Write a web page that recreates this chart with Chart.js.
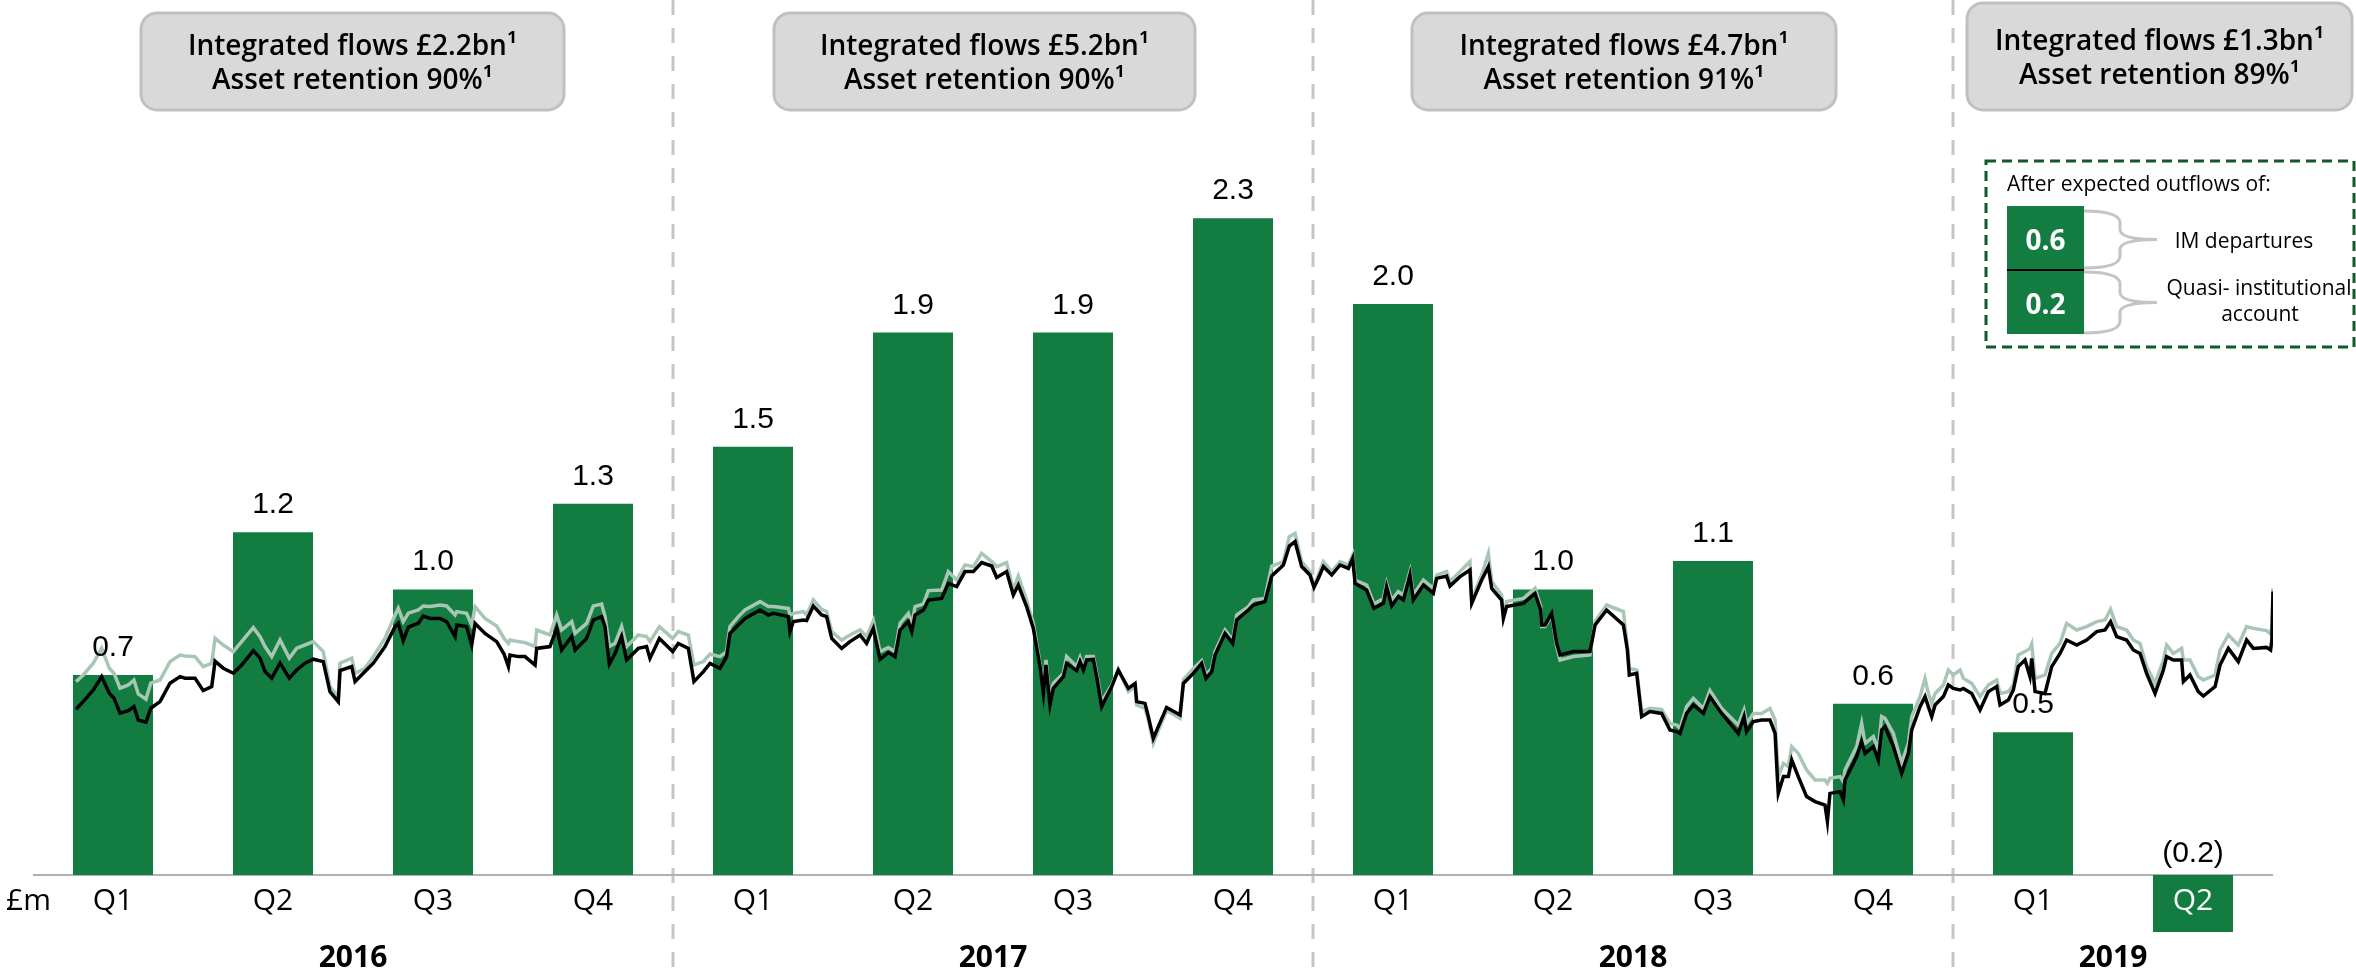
<!DOCTYPE html>
<html>
<head>
<meta charset="utf-8">
<script src="https://cdn.jsdelivr.net/npm/chart.js@4.4.1/dist/chart.umd.min.js"></script>
<style>
  html, body { margin: 0; padding: 0; background: #fff; }
  canvas { display: block; }
</style>
</head>
<body>
<canvas id="chart" width="2356" height="980"></canvas>
<script>
// quarterly net flows, £bn
const quarters = ['Q1', 'Q2', 'Q3', 'Q4', 'Q1', 'Q2', 'Q3', 'Q4', 'Q1', 'Q2', 'Q3', 'Q4', 'Q1', 'Q2'];
const flows = [0.7, 1.2, 1.0, 1.3, 1.5, 1.9, 1.9, 2.3, 2.0, 1.0, 1.1, 0.6, 0.5, -0.2];
const years = ['2016', '2017', '2018', '2019'];
const yearFirstQuarter = [0, 4, 8, 12];
const integratedFlows = ['£2.2bn', '£5.2bn', '£4.7bn', '£1.3bn'];
const assetRetention = ['90%', '90%', '91%', '89%'];
const expectedOutflows = [0.6, 0.2];
const outflowNames = [['IM departures'], ['Quasi- institutional', 'account']];

// share price lines (x = quarters since start of 2016)
const priceT = [
  0.269, 0.314, 0.377, 0.429, 0.477, 0.506, 0.544, 0.596, 0.631, 0.658, 0.706, 0.736, 0.794, 0.856, 0.919, 0.95,
  1.013, 1.064, 1.117, 1.138, 1.189, 1.252, 1.304, 1.377, 1.419, 1.45, 1.492, 1.544, 1.602, 1.648, 1.7, 1.752,
  1.814, 1.856, 1.908, 1.919, 1.992, 2.013, 2.075, 2.127, 2.2, 2.263, 2.283, 2.314, 2.346, 2.408, 2.439,
  2.481, 2.544, 2.585, 2.638, 2.648, 2.71, 2.742, 2.763, 2.825, 2.898, 2.944, 2.971, 2.981, 3.033, 3.075, 3.138,
  3.148, 3.231, 3.273, 3.304, 3.367, 3.388, 3.46, 3.502, 3.554, 3.575, 3.602, 3.638, 3.679, 3.71, 3.783, 3.835,
  3.856, 3.915, 3.998, 4.033, 4.096, 4.131, 4.19, 4.231, 4.294, 4.335, 4.356, 4.408, 4.45, 4.544, 4.596, 4.627,
  4.721, 4.731, 4.752, 4.815,
  4.835, 4.877, 4.929, 4.96, 4.992, 5.054, 5.106, 5.169, 5.21, 5.252, 5.294, 5.346, 5.388, 5.419, 5.471, 5.492,
  5.513, 5.565, 5.596, 5.679, 5.721, 5.773, 5.825, 5.877, 5.929, 5.992, 6.023, 6.085, 6.127, 6.158, 6.21, 6.252,
  6.294, 6.315, 6.331, 6.356, 6.377, 6.44, 6.46, 6.523, 6.544, 6.565, 6.585, 6.627, 6.648, 6.679, 6.742, 6.783,
  6.846, 6.888, 6.898, 6.95, 6.971, 7.002, 7.033, 7.085, 7.169,
  7.19, 7.252, 7.304, 7.331, 7.367, 7.388, 7.45, 7.498, 7.523, 7.596, 7.627, 7.7, 7.742, 7.815, 7.852, 7.888,
  7.929, 7.981, 8.006, 8.033, 8.065, 8.117, 8.169, 8.221, 8.248, 8.263, 8.335, 8.381, 8.44, 8.46, 8.492, 8.533,
  8.565, 8.606, 8.627, 8.69, 8.752, 8.773, 8.835, 8.856, 8.919, 8.981, 8.992, 9.054, 9.096, 9.117, 9.179, 9.19,
  9.21, 9.315, 9.388, 9.423, 9.429,
  9.45, 9.492, 9.523, 9.544, 9.627, 9.731, 9.763, 9.835, 9.94, 9.965, 9.977, 10.023, 10.054, 10.106, 10.179, 10.231,
  10.273, 10.294, 10.335, 10.377, 10.44, 10.481, 10.554, 10.658, 10.694, 10.71, 10.752, 10.804, 10.856, 10.888, 10.902, 10.908,
  10.94, 10.971, 10.992, 11.033, 11.085, 11.138, 11.2, 11.215, 11.231, 11.294, 11.315, 11.325, 11.367, 11.398, 11.429, 11.45,
  11.502, 11.533, 11.554, 11.575, 11.627, 11.679, 11.721, 11.742, 11.794,
  11.825, 11.846, 11.867, 11.888, 11.94, 11.971, 12.002, 12.044, 12.065, 12.117, 12.169, 12.221, 12.273, 12.294, 12.346, 12.377,
  12.408, 12.45, 12.481, 12.492, 12.513, 12.575, 12.617, 12.669, 12.71, 12.773, 12.835, 12.898, 12.95, 12.985, 13.023, 13.085,
  13.127, 13.169, 13.21, 13.263, 13.315, 13.335, 13.377, 13.429, 13.44, 13.481, 13.533, 13.565, 13.638, 13.669, 13.721, 13.783,
  13.835, 13.877, 13.96, 13.985, 13.993, 14
];
const priceBlack = [
  261.4, 265.2, 271, 277.7, 269.4, 266.9, 259.4, 260.7, 262.7, 256, 254.9, 261.9, 265.2, 274.4, 277.7, 276.9,
  276.9, 270.7, 272.7, 285.4, 281.9, 279.4, 283.5, 290.7, 286.9, 280.2, 276.9, 284.4, 276.9, 281, 284.4, 286.4,
  285.2, 270.2, 265.2, 280.7, 282.7, 275.2, 280.2, 284.4, 292.7, 302.7, 304.4, 295.7, 302.4, 304.4, 308,
  306.8, 306.8, 305.2, 297.7, 303.5, 302.7, 293.5, 304.3, 299.3, 295.2, 289, 282.7, 288.5, 287.7, 287.7, 283.5,
  291.8, 292.7, 301.8, 291, 297.7, 291, 296.8, 306, 307.7, 302.7, 284, 289.3, 297.7, 286, 291.8, 292.7,
  286.8, 296.8, 290.2, 294.3, 291.8, 275.2, 280.2, 284.3, 281.8, 287.7, 299.3, 303.5, 306.8, 311, 308.5, 309.3,
  307.7, 300.2, 305.2, 306,
  305.7, 313, 308.5, 307.7, 296.8, 291.8, 295.2, 298.5, 294.3, 301.8, 286.3, 289.7, 287.7, 301, 305.2, 300.2,
  308.5, 311, 316, 316.8, 324.3, 322.7, 330.2, 330.2, 334.7, 333, 327.3, 330.2, 318.5, 323.5, 312.7, 301.8,
  282.7, 269.3, 283.5, 263.5, 271.8, 277.7, 284.3, 280.7, 285.2, 281, 286, 286.3, 277.7, 262.7, 272.7, 281,
  271.8, 274.3, 265.2, 264.3, 257.7, 246.8, 252.7, 262.3, 258.5,
  274.3, 279.3, 284.3, 276.8, 280.2, 288.5, 299.3, 294.3, 306, 311, 313.5, 315.2, 328, 333.5, 343, 345.2,
  332.7, 328.5, 322.3, 326.8, 332.7, 328.5, 333.5, 331.8, 336.8, 324.3, 321, 311.8, 314.3, 322.7, 313, 317.7,
  316, 328.5, 316, 323.5, 319.3, 326.8, 328, 323, 327.7, 331, 314.3, 326, 332.7, 321.8, 316, 306.8,
  312.7, 314.3, 319.3, 311, 303.5,
  303.5, 309.3, 294.3, 288.5, 290.2, 290.2, 303.5, 311, 303.5, 291, 278.5, 279.3, 257.7, 260.2, 259.3, 251,
  250.2, 249.3, 259.3, 263.5, 259.3, 267.7, 259.3, 249.3, 257.7, 250.2, 255.2, 256, 256, 249.3, 227.7, 219.3,
  227.7, 227.7, 236, 227.7, 217.7, 215.2, 213.5, 205.2, 219.3, 220.2, 216, 226, 232.7, 237.7, 245.2, 239.3,
  242.7, 236, 251, 252.7, 242.7, 229.3, 239.3, 251, 262.7,
  267.7, 262.7, 257.7, 263.5, 267.7, 273.5, 271.8, 271, 271.8, 269.3, 261, 270.2, 272.7, 263.5, 266, 271,
  282.7, 286, 277.7, 286.8, 270.2, 269.3, 282.7, 289.3, 296, 293.5, 296, 300.2, 301, 305.2, 297.7, 296,
  291, 289.3, 279.3, 269.3, 281, 287.7, 286, 286, 275.2, 278.5, 270.2, 268, 272.7, 283.5, 291.8, 285.2,
  296, 291.8, 292.3, 291, 296, 320.2
];
const priceGrey = [
  275.2, 278.5, 284.4, 291.9, 281.9, 279.4, 271.9, 273.5, 276, 269, 266.4, 274.4, 276, 285.2, 288.5, 288,
  287.7, 282.7, 284.4, 296.9, 293.5, 290.2, 295.2, 302.2, 297.7, 292.7, 287.7, 296, 286.9, 291.9, 293.5, 295.2,
  290.2, 272.7, 267.7, 284.4, 286.9, 279.4, 281.9, 287.7, 296.9, 308.5, 311.9, 305.2, 309.4, 311, 313,
  312.7, 313.5, 313, 308.5, 310.2, 309.3, 303.5, 312.7, 306.8, 303, 296.8, 294.3, 296, 295.2, 294.7, 292.7,
  301, 298.5, 308.5, 301, 305.2, 299.3, 304.3, 313, 314, 307.7, 292.7, 294.3, 302.7, 292.7, 298.5, 297.7,
  295.2, 302.7, 296.8, 300.2, 298.5, 283.5, 285.2, 289, 287.7, 290.2, 302.7, 307.7, 311, 315.2, 312.7, 312.7,
  311.8, 308.5, 309.3, 310.2,
  308.5, 316, 311.3, 310.2, 300.2, 296, 298.5, 301, 297.7, 305.7, 290.2, 292.3, 290.2, 304.3, 309.3, 303.5,
  312.7, 314, 320.7, 321, 330.2, 326, 333.5, 332.7, 339.3, 335.2, 332.7, 334.7, 321, 328, 316, 304.3,
  284.3, 271, 286, 266, 274.3, 279.3, 287.7, 282.7, 287.3, 282.7, 287.7, 287.7, 279.3, 265.2, 273.5, 281.3,
  270.2, 272.7, 263.5, 261.8, 256, 244.3, 250.7, 260.7, 256.8,
  276.3, 281.8, 285.7, 278.5, 281.8, 290.2, 301, 296, 308.5, 312.7, 316, 316.8, 333, 335.2, 347.7, 349.3,
  335.2, 330.2, 323, 328.5, 335.2, 330.2, 335.2, 333.5, 338.5, 326, 323.5, 314, 316.8, 324.3, 316, 320.2,
  318.5, 330.2, 318.5, 326, 321.8, 328.5, 330.2, 325.2, 330.2, 335.2, 316, 328.5, 339.3, 325.2, 318.5, 308.5,
  315.2, 316.8, 321.8, 312.7, 302.7,
  302.7, 308.5, 292.7, 286, 287.7, 288.5, 305.2, 313.5, 310.2, 292.7, 281.8, 281, 260.2, 261.8, 261.3, 254.3,
  253.5, 251.8, 262.7, 266.8, 261.8, 270.7, 261.8, 253.5, 261, 254.3, 259.3, 259.3, 261.8, 256, 236, 227.7,
  234.3, 232.7, 242.7, 239.3, 231, 226, 226, 224.3, 226.8, 227.7, 225.2, 231, 237.7, 242.7, 254.3, 244.3,
  247.7, 241, 257.7, 256.8, 249.3, 234.3, 244.3, 257.7, 267.7,
  276.8, 269.3, 264.3, 269.3, 273.5, 281, 278.5, 281, 276.8, 274.3, 267.7, 273.5, 276, 269.3, 270.2, 273.5,
  288.5, 290.2, 291.8, 294, 276.8, 278.5, 289.3, 294.3, 304.3, 301, 302.7, 305.2, 306, 311.3, 302.7, 301,
  296, 294.3, 282.7, 274.3, 286, 293.5, 289.3, 291.8, 286, 286, 277.7, 276, 278.5, 291, 298.5, 293.5,
  302.7, 301.8, 300.7, 299, 302.7, 321.8
];

const GREEN = '#137c41';
const SANS = '"Open Sans", "Noto Sans", sans-serif';
const ARIAL = '"Liberation Sans", Arial, sans-serif';

function roundBox(ctx, x, y, w, h, r) {
  ctx.beginPath();
  ctx.moveTo(x + r, y);
  ctx.arcTo(x + w, y, x + w, y + h, r);
  ctx.arcTo(x + w, y + h, x, y + h, r);
  ctx.arcTo(x, y + h, x, y, r);
  ctx.arcTo(x, y, x + w, y, r);
  ctx.closePath();
}

function brace(ctx, x0, y1, y2, xt) {
  const ym = (y1 + y2) / 2, xs = x0 + 36;
  ctx.beginPath();
  ctx.moveTo(x0, y1);
  ctx.quadraticCurveTo(xs, y1, xs, y1 + 12);
  ctx.lineTo(xs, ym - 10);
  ctx.quadraticCurveTo(xs, ym, xt, ym);
  ctx.moveTo(x0, y2);
  ctx.quadraticCurveTo(xs, y2, xs, y2 - 12);
  ctx.lineTo(xs, ym + 10);
  ctx.quadraticCurveTo(xs, ym, xt, ym);
  ctx.stroke();
}

const decorations = {
  id: 'decorations',
  beforeDatasetsDraw(chart) {
    const ctx = chart.ctx, x = chart.scales.x, y = chart.scales.y, area = chart.chartArea;
    ctx.save();
    // dashed separators between years
    ctx.strokeStyle = '#c6c6c6';
    ctx.lineWidth = 3;
    ctx.setLineDash([15, 13]);
    yearFirstQuarter.slice(1).forEach(i => {
      const px = Math.round((x.getPixelForValue(i - 1) + x.getPixelForValue(i)) / 2);
      ctx.beginPath();
      ctx.moveTo(px, 0);
      ctx.lineTo(px, chart.height);
      ctx.stroke();
    });
    // zero line
    ctx.setLineDash([]);
    ctx.strokeStyle = '#b0b0b0';
    ctx.lineWidth = 2;
    const y0 = y.getPixelForValue(0);
    ctx.beginPath();
    ctx.moveTo(area.left, y0);
    ctx.lineTo(area.right, y0);
    ctx.stroke();
    ctx.restore();
  },
  afterDatasetsDraw(chart) {
    const ctx = chart.ctx, x = chart.scales.x, y = chart.scales.y;
    const bars = chart.getDatasetMeta(0).data;
    const y0 = y.getPixelForValue(0);
    ctx.save();
    ctx.textAlign = 'center';
    ctx.textBaseline = 'alphabetic';

    // value labels
    ctx.font = '30px ' + ARIAL;
    ctx.fillStyle = '#000';
    flows.forEach((v, i) => {
      const txt = v < 0 ? '(' + Math.abs(v).toFixed(1) + ')' : v.toFixed(1);
      const by = v < 0 ? y0 - 13 : bars[i].y - 19;
      ctx.fillText(txt, bars[i].x, by);
    });

    // quarter labels
    ctx.font = '30px ' + SANS;
    quarters.forEach((q, i) => {
      ctx.fillStyle = flows[i] < 0 ? '#fff' : '#000';
      ctx.fillText(q, x.getPixelForValue(i), 910);
    });
    ctx.fillStyle = '#000';
    ctx.textAlign = 'left';
    ctx.fillText('£m', 6, 910);

    // years
    ctx.textAlign = 'center';
    ctx.font = 'bold 30px ' + SANS;
    years.forEach((yr, k) => {
      const first = yearFirstQuarter[k];
      const last = k + 1 < yearFirstQuarter.length ? yearFirstQuarter[k + 1] - 1 : quarters.length - 1;
      const cx = (x.getPixelForValue(first) + x.getPixelForValue(last)) / 2;
      ctx.fillText(yr, cx, 967);
    });
    ctx.restore();
  },
  afterDraw(chart) {
    const ctx = chart.ctx;
    ctx.save();

    // summary boxes at the top
    const boxes = [
      { l: 141, r: 564, t: 13, b: 110 },
      { l: 774, r: 1195, t: 13, b: 110 },
      { l: 1412, r: 1836, t: 13, b: 110 },
      { l: 1967, r: 2352, t: 3, b: 110 }
    ];
    boxes.forEach((bx, k) => {
      roundBox(ctx, bx.l, bx.t, bx.r - bx.l, bx.b - bx.t, 16);
      ctx.fillStyle = '#d9d9d9';
      ctx.fill();
      ctx.strokeStyle = '#c0c0c0';
      ctx.lineWidth = 3;
      ctx.stroke();
      const cx = (bx.l + bx.r) / 2, cy = (bx.t + bx.b) / 2;
      ctx.fillStyle = '#000';
      ctx.font = '600 28px ' + SANS;
      ctx.textAlign = 'center';
      ctx.fillText('Integrated flows ' + integratedFlows[k] + '¹', cx, cy - 7);
      ctx.fillText('Asset retention ' + assetRetention[k] + '¹', cx, cy + 27);
    });

    // inset: expected outflows
    ctx.setLineDash([10, 6]);
    ctx.strokeStyle = '#0e5a2a';
    ctx.lineWidth = 3;
    ctx.strokeRect(1986, 161, 368, 186);
    ctx.setLineDash([]);

    ctx.textAlign = 'left';
    ctx.font = '21px ' + SANS;
    ctx.fillStyle = '#000';
    ctx.fillText('After expected outflows of:', 2007, 191);

    const tops = [206, 270];
    expectedOutflows.forEach((v, k) => {
      ctx.fillStyle = GREEN;
      ctx.fillRect(2007, tops[k], 77, 64);
      ctx.fillStyle = '#fff';
      ctx.font = 'bold 28px ' + SANS;
      ctx.textAlign = 'center';
      ctx.fillText(v.toFixed(1), 2045.5, tops[k] + 44);
    });
    ctx.strokeStyle = '#000';
    ctx.lineWidth = 2;
    ctx.beginPath();
    ctx.moveTo(2007, 270);
    ctx.lineTo(2084, 270);
    ctx.stroke();

    ctx.strokeStyle = '#c4c4c4';
    ctx.lineWidth = 3;
    brace(ctx, 2084, 211, 268, 2157);
    brace(ctx, 2084, 272, 333, 2157);

    ctx.fillStyle = '#000';
    ctx.font = '21px ' + SANS;
    ctx.textAlign = 'center';
    ctx.fillText(outflowNames[0][0], 2244, 248);
    ctx.fillText(outflowNames[1][0], 2259, 295);
    ctx.fillText(outflowNames[1][1], 2260, 321);
    ctx.restore();
  }
};

new Chart('chart', {
  type: 'bar',
  data: {
    labels: quarters,
    datasets: [
      {
        type: 'bar',
        data: flows,
        backgroundColor: GREEN,
        categoryPercentage: 1,
        barPercentage: 0.5,
        grouped: false,
        xAxisID: 'x',
        yAxisID: 'y',
        order: 3
      },
      {
        type: 'line',
        data: priceT.map((t, i) => ({ x: t, y: priceGrey[i] })),
        borderColor: '#a9c6b5',
        borderWidth: 3.5,
        pointRadius: 0,
        tension: 0,
        xAxisID: 'xl',
        yAxisID: 'yl',
        order: 2
      },
      {
        type: 'line',
        data: priceT.map((t, i) => ({ x: t, y: priceBlack[i] })),
        borderColor: '#000',
        borderWidth: 3.5,
        pointRadius: 0,
        tension: 0,
        xAxisID: 'xl',
        yAxisID: 'yl',
        order: 1
      }
    ]
  },
  options: {
    responsive: false,
    animation: false,
    devicePixelRatio: 1,
    layout: { padding: { left: 33, right: 83, top: 0, bottom: 48 } },
    plugins: {
      legend: { display: false },
      tooltip: { enabled: false }
    },
    scales: {
      x: { display: false, offset: true, grid: { display: false } },
      y: { display: false, min: -0.2, max: 3.065 },
      xl: { type: 'linear', display: false, offset: false, min: 0, max: 14 },
      yl: { type: 'linear', display: false, min: 150, max: 616 }
    }
  },
  plugins: [decorations]
});
</script>
</body>
</html>
